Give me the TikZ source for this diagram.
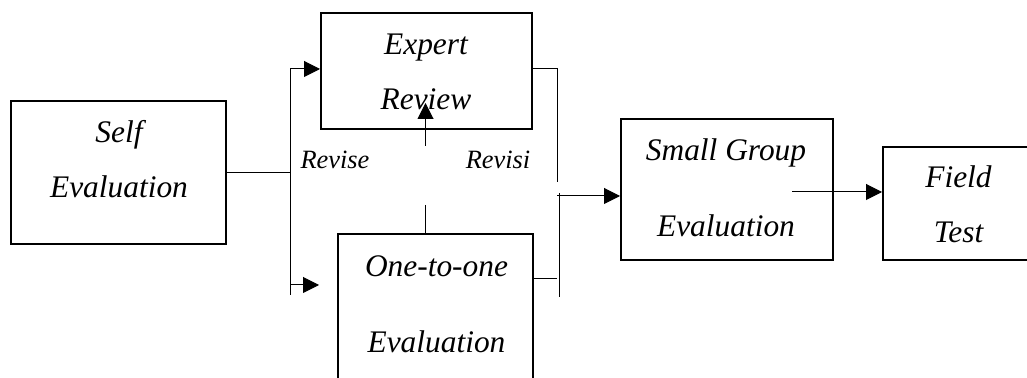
\documentclass[tikz,border=0pt]{standalone}
\usepackage{fontspec}
\setmainfont{Liberation Serif}
\usetikzlibrary{calc, positioning, arrows.meta}

\begin{document}
\begin{tikzpicture}[
            x=0.5pt, y=-0.5pt,
            box/.style = {rectangle, draw=black, line width=1pt, inner sep=0pt},
            txt/.style = {inner sep=0pt, align=center, font=\fontsize{15.7}{27.5}\selectfont\itshape},
            widetxt/.style = {txt, font=\fontsize{15.7}{38}\selectfont\itshape},
            lbl/.style = {inner sep=0pt, font=\fontsize{13.2}{15}\selectfont\itshape},
            link/.style = {line width=0.5pt},
            arr/.style = {link, -{Triangle[length=8pt, width=8pt]}}
        ]

            \useasboundingbox (0,0) rectangle (1027,378);
            \clip (0,0) rectangle (1027,378);

            % --- 1. Boxes ---
            \node [box, minimum width=107.5pt, minimum height=71.5pt] (self) at (118.5,172.5) {};
            \node [box, minimum width=105.5pt, minimum height=58pt] (expert) at (426.5,71) {};
            \node [box, minimum width=97.5pt, minimum height=78pt] (onetoone) at (435.5,312) {};
            \node [box, minimum width=106pt, minimum height=70.5pt] (small) at (727,189.5) {};
            \node [box, minimum width=75.5pt, minimum height=56.5pt] (field) at (958.5,203.5) {};

            % --- 2. Texts ---
            \node [txt] (selftxt) at (119,159) {Self\\Evaluation};
            \node [txt] (experttxt) at (426,71.5) {Expert\\Review};
            \node [widetxt] (onetoonetxt) at (436.5,304) {One-to-one\\Evaluation};
            \node [widetxt] (smalltxt) at (726,187.5) {Small Group\\Evaluation};
            \node [txt] (fieldtxt) at (958.5,204) {Field\\Test};

            \node [lbl] (revise) at (335,160) {Revise};
            \node [lbl] (revisi) at (498,160) {Revisi};

            % --- 3. Connections ---
            \coordinate (fork) at (290,172.5);
            \coordinate (forktop) at (290,69);
            \coordinate (forkbot) at (290,295);
            \coordinate (oneend) at (319,285);

            \draw [link] (self.east) -- (fork);
            \draw [link] (forktop) -- (forkbot);
            \draw [arr] (forktop) -- (forktop -| expert.west);
            \draw [arr] (forktop |- oneend) -- (oneend);

            % revision from one-to-one back to expert review
            \coordinate (revbase) at (425.5,146);
            \coordinate (revtip) at (425.5,103);
            \coordinate (stubtop) at (425.5,205);
            \draw [arr] (revbase) -- (revtip);
            \draw [link] (stubtop) -- (stubtop |- onetoone.north);

            % join into small group
            \coordinate (joinA) at (557,182);
            \coordinate (joinB) at (557,279);
            \coordinate (jointop) at (559,193);
            \coordinate (joinbot) at (559,297);
            \coordinate (joinout) at (557,196);
            \draw [link] (forktop -| expert.east) -| (joinA);
            \draw [link] (joinB -| onetoone.east) -- (joinB);
            \draw [link] (jointop) -- (joinbot);
            \draw [arr] (joinout) -- (joinout -| small.west);

            \coordinate (smallout) at (792,192);
            \draw [arr] (smallout) -- (smallout -| field.west);

        \end{tikzpicture}
\end{document}
